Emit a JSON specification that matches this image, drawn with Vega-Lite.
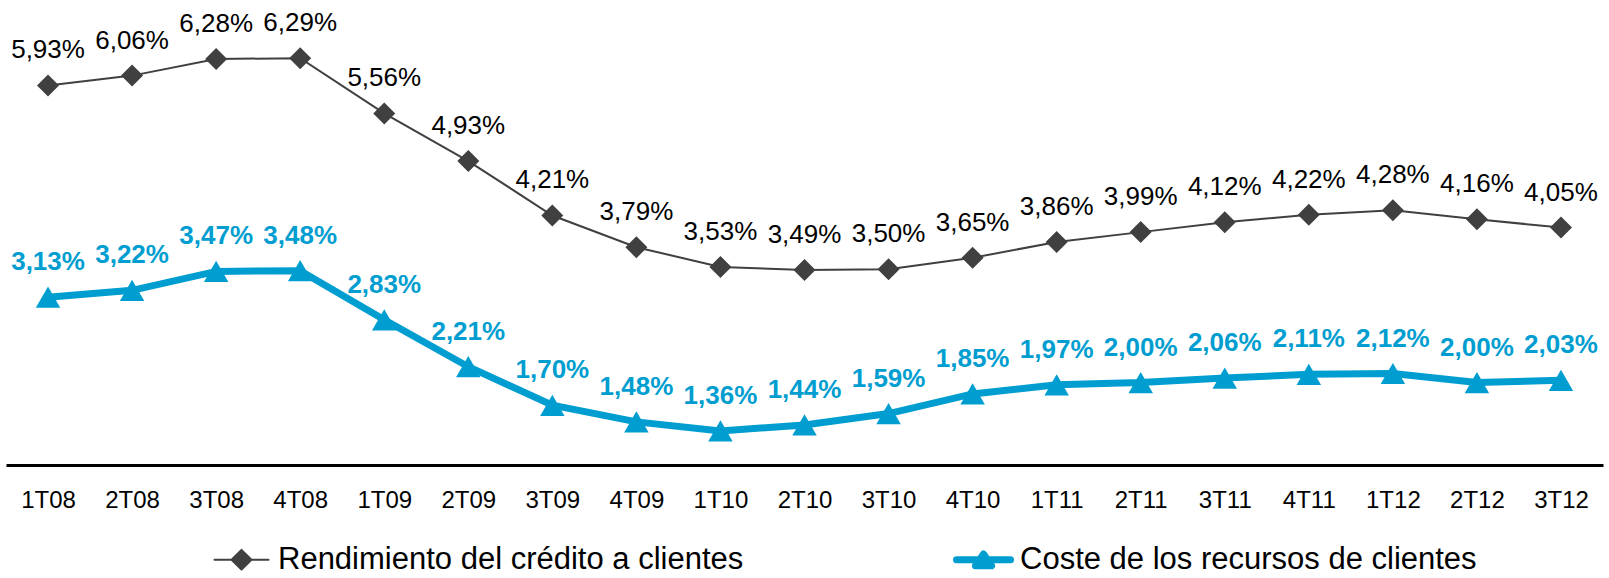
{
  "$schema": "https://vega.github.io/schema/vega-lite/v6.json",
  "width": 1597,
  "height": 465,
  "autosize": {"type": "none"},
  "padding": {"left": 6, "top": 0, "right": 6, "bottom": 113},
  "background": "white",
  "config": {
    "view": {"stroke": null},
    "font": "Liberation Sans",
    "locale": {"number": {"decimal": ",", "thousands": ".", "grouping": [3], "currency": ["", " €"]}}
  },
  "data": {
    "values": [
      {"q": "1T08", "serie": "Rendimiento del crédito a clientes", "v": 0.0593},
      {"q": "2T08", "serie": "Rendimiento del crédito a clientes", "v": 0.0606},
      {"q": "3T08", "serie": "Rendimiento del crédito a clientes", "v": 0.0628},
      {"q": "4T08", "serie": "Rendimiento del crédito a clientes", "v": 0.0629},
      {"q": "1T09", "serie": "Rendimiento del crédito a clientes", "v": 0.0556},
      {"q": "2T09", "serie": "Rendimiento del crédito a clientes", "v": 0.0493},
      {"q": "3T09", "serie": "Rendimiento del crédito a clientes", "v": 0.0421},
      {"q": "4T09", "serie": "Rendimiento del crédito a clientes", "v": 0.0379},
      {"q": "1T10", "serie": "Rendimiento del crédito a clientes", "v": 0.0353},
      {"q": "2T10", "serie": "Rendimiento del crédito a clientes", "v": 0.0349},
      {"q": "3T10", "serie": "Rendimiento del crédito a clientes", "v": 0.0350},
      {"q": "4T10", "serie": "Rendimiento del crédito a clientes", "v": 0.0365},
      {"q": "1T11", "serie": "Rendimiento del crédito a clientes", "v": 0.0386},
      {"q": "2T11", "serie": "Rendimiento del crédito a clientes", "v": 0.0399},
      {"q": "3T11", "serie": "Rendimiento del crédito a clientes", "v": 0.0412},
      {"q": "4T11", "serie": "Rendimiento del crédito a clientes", "v": 0.0422},
      {"q": "1T12", "serie": "Rendimiento del crédito a clientes", "v": 0.0428},
      {"q": "2T12", "serie": "Rendimiento del crédito a clientes", "v": 0.0416},
      {"q": "3T12", "serie": "Rendimiento del crédito a clientes", "v": 0.0405},
      {"q": "1T08", "serie": "Coste de los recursos de clientes", "v": 0.0313},
      {"q": "2T08", "serie": "Coste de los recursos de clientes", "v": 0.0322},
      {"q": "3T08", "serie": "Coste de los recursos de clientes", "v": 0.0347},
      {"q": "4T08", "serie": "Coste de los recursos de clientes", "v": 0.0348},
      {"q": "1T09", "serie": "Coste de los recursos de clientes", "v": 0.0283},
      {"q": "2T09", "serie": "Coste de los recursos de clientes", "v": 0.0221},
      {"q": "3T09", "serie": "Coste de los recursos de clientes", "v": 0.0170},
      {"q": "4T09", "serie": "Coste de los recursos de clientes", "v": 0.0148},
      {"q": "1T10", "serie": "Coste de los recursos de clientes", "v": 0.0136},
      {"q": "2T10", "serie": "Coste de los recursos de clientes", "v": 0.0144},
      {"q": "3T10", "serie": "Coste de los recursos de clientes", "v": 0.0159},
      {"q": "4T10", "serie": "Coste de los recursos de clientes", "v": 0.0185},
      {"q": "1T11", "serie": "Coste de los recursos de clientes", "v": 0.0197},
      {"q": "2T11", "serie": "Coste de los recursos de clientes", "v": 0.0200},
      {"q": "3T11", "serie": "Coste de los recursos de clientes", "v": 0.0206},
      {"q": "4T11", "serie": "Coste de los recursos de clientes", "v": 0.0211},
      {"q": "1T12", "serie": "Coste de los recursos de clientes", "v": 0.0212},
      {"q": "2T12", "serie": "Coste de los recursos de clientes", "v": 0.0200},
      {"q": "3T12", "serie": "Coste de los recursos de clientes", "v": 0.0203}
    ]
  },
  "encoding": {
    "x": {
      "field": "q",
      "type": "ordinal",
      "sort": null,
      "scale": {"type": "point", "padding": 0.5},
      "axis": {
        "title": null,
        "labelAngle": 0,
        "labelFont": "Liberation Sans",
        "labelFontSize": 24,
        "labelColor": "#000000",
        "labelPadding": 23,
        "ticks": false,
        "grid": false,
        "domainColor": "#000000",
        "domainWidth": 3
      }
    },
    "y": {
      "field": "v",
      "type": "quantitative",
      "scale": {"domain": [0.0091, 0.0706], "nice": false, "zero": false},
      "axis": null
    },
    "color": {
      "field": "serie",
      "type": "nominal",
      "scale": {"domain": ["Rendimiento del crédito a clientes", "Coste de los recursos de clientes"], "range": ["#404040", "#009ED0"]},
      "legend": {
        "orient": "none",
        "legendX": 220,
        "legendY": 544,
        "direction": "horizontal",
        "title": null,
        "padding": 0,
        "labelFont": "Liberation Sans",
        "labelFontSize": 31,
        "labelColor": "#000000",
        "labelLimit": 1000,
        "labelOffset": 21,
        "symbolSize": 3600,
        "symbolType": "M-0.9,0H0.9M-0.33,0L0,-0.33L0.33,0L0,0.33Z",
        "columnPadding": 209,
        "encode": {
          "symbols": {
            "update": {
              "shape": {"signal": "datum.value === 'Coste de los recursos de clientes' ? 'M-0.9,0H0.9M0,-0.19L0.27,0.2L-0.27,0.2Z' : 'M-0.9,0H0.9M-0.33,0L0,-0.33L0.33,0L0,0.33Z'"},
              "fill": {"signal": "datum.value === 'Coste de los recursos de clientes' ? '#009ED0' : '#404040'"},
              "stroke": {"signal": "datum.value === 'Coste de los recursos de clientes' ? '#009ED0' : '#404040'"},
              "strokeWidth": {"signal": "datum.value === 'Coste de los recursos de clientes' ? 7 : 2"},
              "strokeCap": {"value": "round"},
              "strokeJoin": {"value": "round"},
              "opacity": {"value": 1},
              "fillOpacity": {"value": 1},
              "strokeOpacity": {"value": 1}
            }
          }
        }
      }
    }
  },
  "layer": [
    {
      "transform": [{"filter": "datum.serie === 'Rendimiento del crédito a clientes'"}],
      "mark": {"type": "line", "strokeWidth": 2}
    },
    {
      "transform": [{"filter": "datum.serie === 'Coste de los recursos de clientes'"}],
      "mark": {"type": "line", "strokeWidth": 7}
    },
    {
      "transform": [{"filter": "datum.serie === 'Rendimiento del crédito a clientes'"}],
      "mark": {"type": "point", "filled": true, "opacity": 1, "shape": "diamond", "size": 484}
    },
    {
      "transform": [{"filter": "datum.serie === 'Coste de los recursos de clientes'"}],
      "mark": {"type": "point", "filled": true, "opacity": 1, "shape": "triangle-up", "size": 600}
    },
    {
      "transform": [{"filter": "datum.serie === 'Rendimiento del crédito a clientes'"}],
      "mark": {"type": "text", "dy": -27, "baseline": "alphabetic", "align": "center", "fontSize": 26, "font": "Liberation Sans", "color": "#000000"},
      "encoding": {"text": {"field": "v", "type": "quantitative", "format": ".2%"}, "color": {"value": "#000000"}}
    },
    {
      "transform": [{"filter": "datum.serie === 'Coste de los recursos de clientes'"}],
      "mark": {"type": "text", "dy": -27, "baseline": "alphabetic", "align": "center", "fontSize": 26, "fontWeight": "bold", "font": "Liberation Sans", "color": "#009ED0"},
      "encoding": {"text": {"field": "v", "type": "quantitative", "format": ".2%"}, "color": {"value": "#009ED0"}}
    }
  ]
}
